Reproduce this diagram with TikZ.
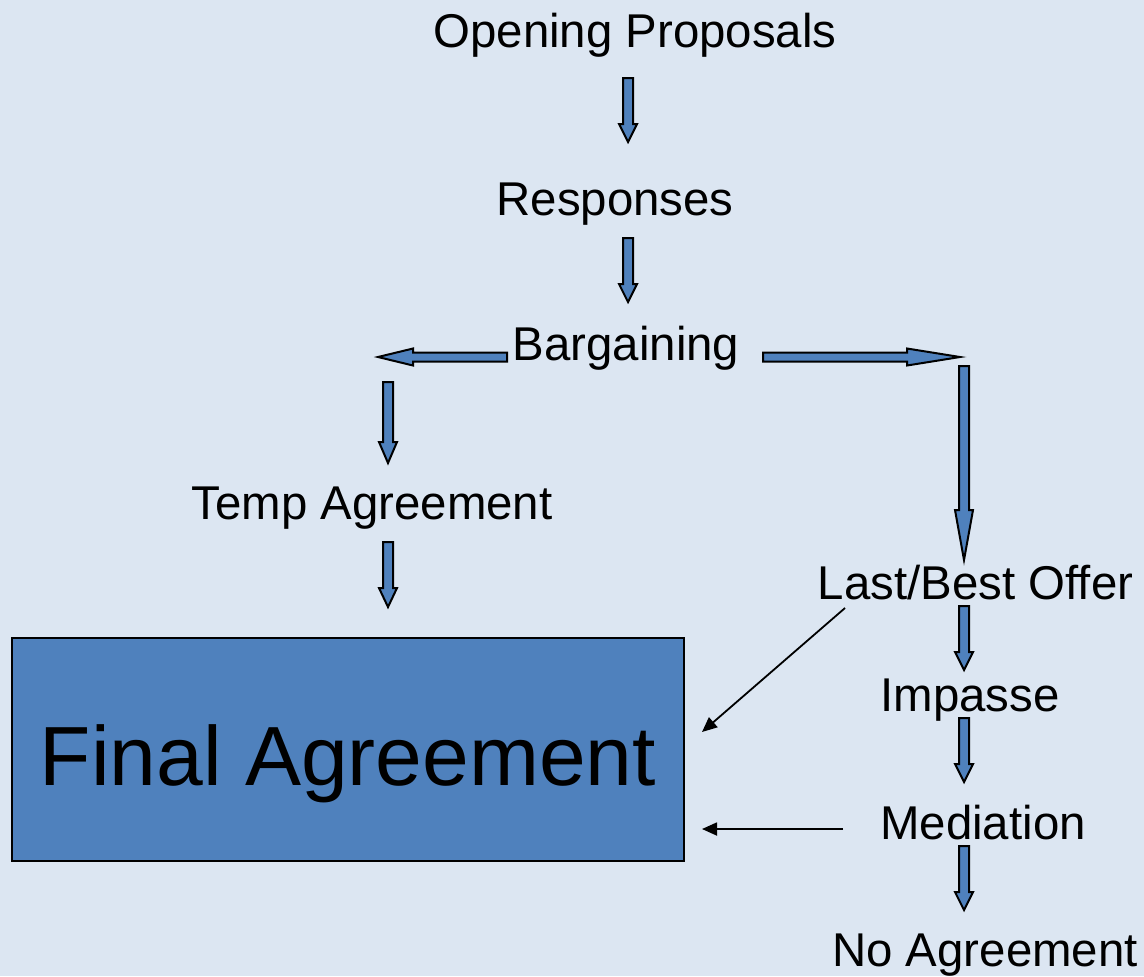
\documentclass[tikz,border=0pt]{standalone}
\usepackage{fontspec}
\setmainfont{Liberation Sans}
\usetikzlibrary{arrows.meta}
\definecolor{bg}{HTML}{DCE6F2}
\definecolor{blk}{HTML}{4F81BD}
\tikzset{
  lbl/.style={anchor=base, inner sep=0pt, font=\fontsize{23.7}{28}\selectfont},
  blockarrow/.style={draw=black, fill=blk, line width=1pt, line join=miter},
  thinarrow/.style={draw=black, line width=0.9pt, -{Triangle[length=7.5pt,width=6.5pt]}},
  bigbox/.style={draw=black, fill=blk, line width=1.2pt, inner sep=0pt,
    text height=35.5pt, text depth=0pt,
    minimum width=336pt, minimum height=111.5pt, font=\fontsize{42}{50}\selectfont},
}
% vertical block arrow: x, y tail, y tip, y of head base
\newcommand{\vblock}[4]{\draw[blockarrow] (#1-5,#2) -- (#1+5,#2) -- (#1+5,#4) -- (#1+9,#4) -- (#1,#3) -- (#1-9,#4) -- (#1-5,#4) -- cycle;}
% horizontal block arrow: y, x tail, x tip, x of head base
\newcommand{\hblock}[4]{\draw[blockarrow] (#2,#1-4.5) -- (#4,#1-4.5) -- (#4,#1-8.5) -- (#3,#1) -- (#4,#1+8.5) -- (#4,#1+4.5) -- (#2,#1+4.5) -- cycle;}
\begin{document}
\begin{tikzpicture}[x=0.5pt,y=-0.5pt]
\fill[bg] (0,0) rectangle (1144,976);
\useasboundingbox (0,0) rectangle (1144,976);

\node[lbl] (open) at (635,47) {Opening Proposals};
\node[lbl] (resp) at (615,215) {Responses};
\node[lbl] (barg) at (626,360) {Bargaining};
\node[lbl] (temp) at (372,519) {Temp Agreement};
\node[lbl] (last) at (975.5,599) {Last/Best Offer};
\node[lbl] (imp) at (970,711) {Impasse};
\node[lbl] (med) at (983,839) {Mediation};
\node[lbl] (noag) at (985,966) {No Agreement};

\node[bigbox] (final) at (348,749.5) {Final Agreement};

\vblock{628}{78}{142}{124}
\vblock{628}{238}{302}{284}
\hblock{357}{507}{378}{413}
\hblock{357}{763}{960}{907}
\vblock{388}{382}{463}{442}
\vblock{388}{542}{607}{588}
\vblock{964}{366}{560}{510}
\vblock{964}{606}{670}{652}
\vblock{964}{718}{782}{764}
\vblock{964}{846}{910}{892}

\coordinate (lastend) at (845,608);
\coordinate (finalA) at (702,732);
\coordinate (medend) at (843,829);
\coordinate (finalB) at (702,829);
\draw[thinarrow] (lastend) -- (finalA);
\draw[thinarrow] (medend) -- (finalB);
\end{tikzpicture}
\end{document}
